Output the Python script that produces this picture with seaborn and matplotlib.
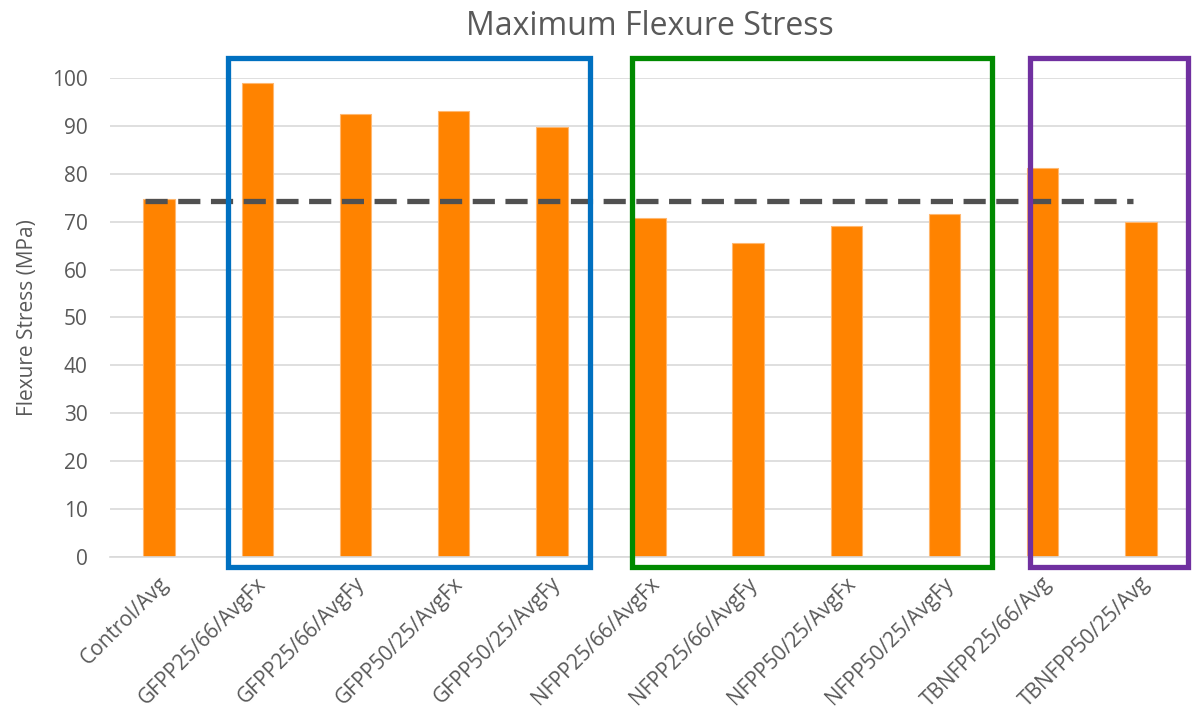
import matplotlib
matplotlib.use("Agg")
import matplotlib.pyplot as plt
import matplotlib.patches as mpatches
import seaborn as sns
import pandas as pd

# データ
categories = ["Control/Avg", "GFPP25/66/AvgFx", "GFPP25/66/AvgFy", "GFPP50/25/AvgFx",
              "GFPP50/25/AvgFy", "NFPP25/66/AvgFx", "NFPP25/66/AvgFy", "NFPP50/25/AvgFx",
              "NFPP50/25/AvgFy", "TBNFPP25/66/Avg", "TBNFPP50/25/Avg"]
stress = [74.7, 99.0, 92.4, 93.1, 89.8, 70.7, 65.6, 69.0, 71.5, 81.2, 69.9]
control_ref = 74.4
# グループ枠 (開始カテゴリ, 終了カテゴリ, 色)
groups = [("GFPP25/66/AvgFx", "GFPP50/25/AvgFy", "#0070c0"),
          ("NFPP25/66/AvgFx", "NFPP50/25/AvgFy", "#008a00"),
          ("TBNFPP25/66/Avg", "TBNFPP50/25/Avg", "#7030a0")]
# 枠の左右の余白 (カテゴリ単位)
box_pad = [(0.30, 0.39), (0.18, 0.48), (0.13, 0.48)]

TEXT = "#595959"
GRID = "#d9d9d9"

sns.set_theme(style="white")
plt.rcParams["font.family"] = ["Open Sans", "DejaVu Sans"]

df = pd.DataFrame({"cat": categories, "stress": stress})

fig = plt.figure(figsize=(11.93, 7.14), dpi=100)
ax = fig.add_axes([0.0922, 0.2199, 0.9053, 0.6709])

sns.barplot(data=df, x="cat", y="stress", ax=ax, color="#ff8300",
            saturation=1, width=0.32, edgecolor="#ffb870", linewidth=0.8)

ax.set_ylim(0, 100)
ax.set_xlim(-0.5, len(categories) - 0.5)
ax.set_yticks(range(0, 101, 10))
ax.yaxis.grid(True, color=GRID, linewidth=1.2)
ax.set_axisbelow(True)
for s in ["top", "right", "left"]:
    ax.spines[s].set_visible(False)
ax.spines["bottom"].set_color(GRID)
ax.spines["bottom"].set_linewidth(1.2)
ax.tick_params(axis="y", length=0, colors=TEXT, labelsize=15, pad=16)
ax.set_xticks(range(len(categories)))
ax.set_xticklabels(categories, rotation=45, ha="right", va="center",
                   rotation_mode="anchor", color=TEXT, fontsize=15)
ax.tick_params(axis="x", length=0, pad=17)
# ラベルを少し右にずらす
offset = matplotlib.transforms.ScaledTranslation(6 / 100, 0, fig.dpi_scale_trans)
for lbl in ax.get_xticklabels():
    lbl.set_transform(lbl.get_transform() + offset)

ax.set_xlabel("")
ax.set_ylabel("Flexure Stress (MPa)", color=TEXT, fontsize=15, labelpad=10)
ax.set_title("Maximum Flexure Stress", color=TEXT, fontsize=23, pad=31)

# コントロール基準の破線
ax.plot([-0.14, 9.92], [control_ref, control_ref], color="#505050",
        linewidth=3.8, dashes=(4.2, 2.0), zorder=4)

# グループ枠
for (start, end, col), (pl, pr) in zip(groups, box_pad):
    x0 = categories.index(start) - pl
    x1 = categories.index(end) + pr
    rect = mpatches.Rectangle((x0, -2.1), x1 - x0, 106.3, fill=False,
                              edgecolor=col, linewidth=3.8, clip_on=False, zorder=5)
    ax.add_patch(rect)

fig.savefig("out.png", dpi=100)
